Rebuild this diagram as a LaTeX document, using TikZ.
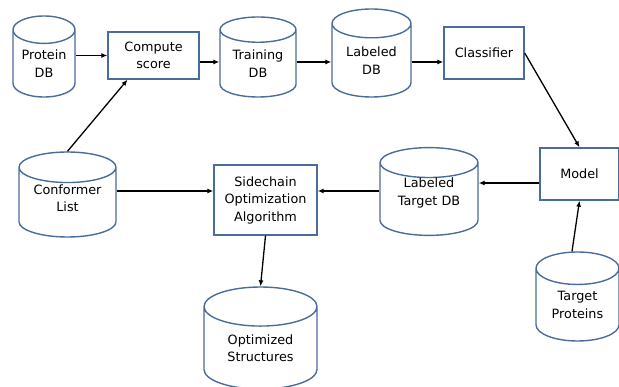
\documentclass[tikz,border=0pt]{standalone}
\usepackage{fontspec}
\setmainfont{DejaVu Sans}
\usetikzlibrary{arrows.meta,shapes.geometric}
\definecolor{boxblue}{RGB}{74,108,155}

\begin{document}
\begin{tikzpicture}[
  x=1pt,y=-1pt,
  font=\fontsize{12.8}{17.5}\selectfont,
  >={Latex[length=6pt,width=5pt]},
  box/.style={draw=boxblue,line width=1.4pt,align=center,inner sep=2pt},
  db/.style={cylinder,shape border rotate=90,anchor=shape center,draw=boxblue,line width=1.4pt,align=center,inner sep=0pt},
  arrow/.style={->,line width=1.3pt}
]
\useasboundingbox (0,0) rectangle (619,387);

% top row: databases and scoring
\node[db,aspect=0.61,minimum width=62pt,minimum height=81pt] (protein) at (44,56.5) {Protein\\DB};
\node[box,minimum width=91pt,minimum height=47pt] (compute) at (153.5,55.5) {Compute\\score};
\node[db,aspect=0.5,minimum width=76pt,minimum height=80pt] (training) at (258,57) {Training\\DB};
\node[db,aspect=0.57,minimum width=79pt,minimum height=88pt] (labeled) at (371.5,53) {Labeled\\DB};
\node[box,minimum width=80pt,minimum height=52pt] (classifier) at (484,53) {Classifier};

% middle and bottom rows
\node[box,minimum width=79pt,minimum height=52pt] (model) at (579.5,174) {Model};
\node[db,aspect=0.48,text depth=15pt,minimum width=98pt,minimum height=87pt] (labtarget) at (429,191.5) {Labeled\\Target DB};
\node[db,aspect=0.63,minimum width=83pt,minimum height=89pt] (targetprot) at (577.5,296.5) {Target\\Proteins};
\node[db,aspect=0.45,text depth=9pt,minimum width=97pt,minimum height=85pt] (conformer) at (67.5,194.5) {Conformer\\List};
\node[box,minimum width=103pt,minimum height=70pt] (sidechain) at (265.5,200) {Sidechain\\Optimization\\Algorithm};
\node[db,aspect=0.59,minimum width=113pt,minimum height=102pt] (optimized) at (260.5,338) {Optimized\\Structures};

% levels of the horizontal connectors
\coordinate (toprow) at ([yshift=-6.5pt]compute.east);
\coordinate (midright) at ([yshift=-9pt]model.west);
\coordinate (midleft) at ([yshift=9pt]sidechain.west);
\coordinate (midcentre) at ([yshift=9pt]sidechain.east);

\draw[arrow] (compute.west -| protein.0) -- (compute.west);
\draw[arrow] (toprow) -- (toprow -| training.180);
\draw[arrow] (toprow -| training.0) -- (toprow -| labeled.180);
\draw[arrow] (toprow -| labeled.0) -- (toprow -| classifier.west);
\draw[arrow] (classifier.east) -- (model.north);
\draw[arrow] (midright) -- (midright -| labtarget.0);
\draw[arrow] ([xshift=-5.5pt]targetprot.90) -- (model.south);
\draw[arrow] (midcentre -| labtarget.180) -- (midcentre);
\draw[arrow] (midleft -| conformer.0) -- (midleft);
\draw[arrow] (conformer.90) -- ([xshift=-26pt]compute.south);
\draw[arrow] (sidechain.south) -- (optimized.90);
\end{tikzpicture}
\end{document}
